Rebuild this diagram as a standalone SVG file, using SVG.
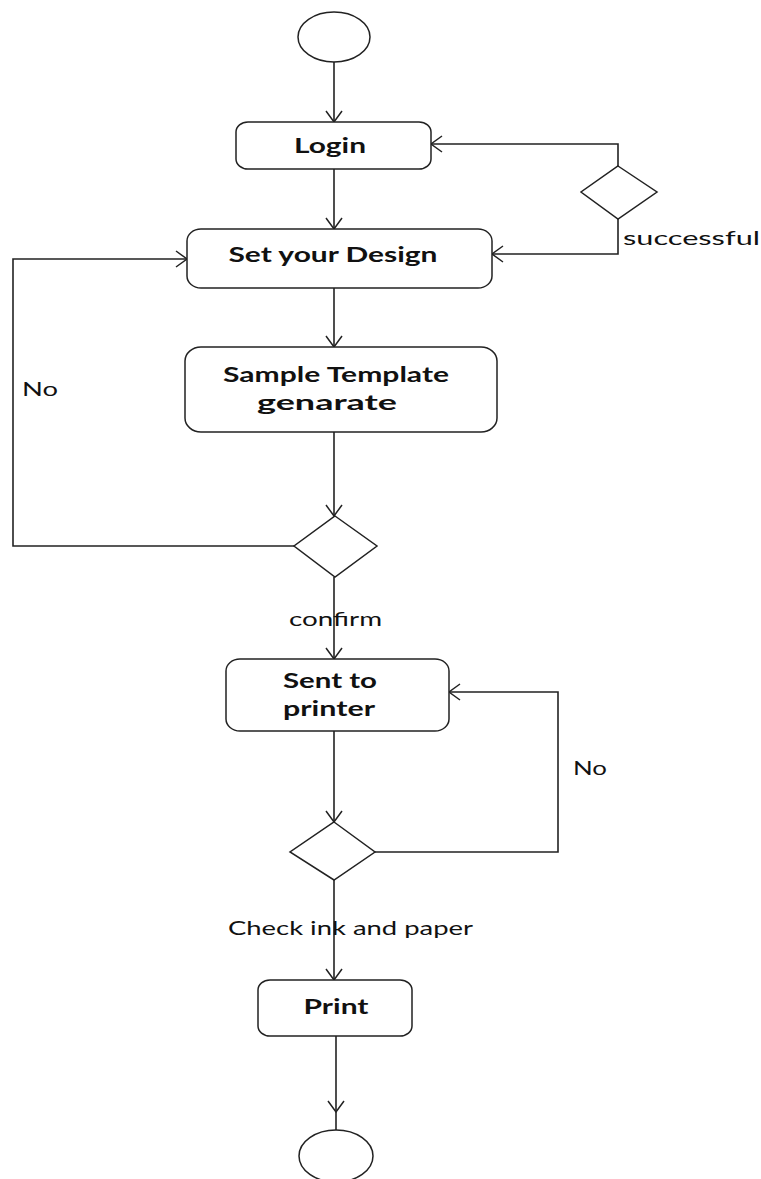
<svg xmlns="http://www.w3.org/2000/svg" width="761" height="1179" viewBox="0 0 761 1179">
<defs>
<style>
.n{fill:#fff;stroke:#222;stroke-width:1.5}
.c{fill:none;stroke:#222;stroke-width:1.6}
.t{font-family:Lato,"Liberation Sans",sans-serif;font-weight:bold;font-size:21px;fill:#111;text-anchor:middle;dominant-baseline:central}
.l{font-family:Lato,"Liberation Sans",sans-serif;font-size:20px;fill:#111;dominant-baseline:central}
</style>
<marker id="a" markerWidth="24" markerHeight="24" refX="12" refY="12" orient="auto" markerUnits="userSpaceOnUse">
<path d="M1,4 L12,12 L1,20" fill="none" stroke="#222" stroke-width="1.5"/>
</marker>
</defs>
<g id="connectors">
<path class="c" d="M334,62 V122" marker-end="url(#a)"/>
<path class="c" d="M334,169 V229" marker-end="url(#a)"/>
<path class="c" d="M334,288 V347" marker-end="url(#a)"/>
<path class="c" d="M334,432 V516" marker-end="url(#a)"/>
<path class="c" d="M294,546 H13 V259 H187" marker-end="url(#a)"/>
<path class="c" d="M334,577 V659" marker-end="url(#a)"/>
<path class="c" d="M334,731 V822" marker-end="url(#a)"/>
<path class="c" d="M375,852 H558 V692 H449" marker-end="url(#a)"/>
<path class="c" d="M334,880 V980" marker-end="url(#a)"/>
<path class="c" d="M336,1036 V1112" marker-end="url(#a)"/>
<path class="c" d="M336,1112 V1130"/>
<path class="c" d="M618,166 V144 H431" marker-end="url(#a)"/>
<path class="c" d="M618,219 V254 H492" marker-end="url(#a)"/>
</g>
<g id="start"><ellipse class="n" cx="334" cy="37" rx="36" ry="25"/></g>
<g id="login"><rect class="n" x="236" y="122" width="195" height="47" rx="12" ry="10"/><text class="t" x="330" y="144" textLength="72" lengthAdjust="spacingAndGlyphs">Login</text></g>
<g id="setDesign"><rect class="n" x="187" y="229" width="305" height="59" rx="14" ry="12"/><text class="t" x="333" y="253" textLength="209" lengthAdjust="spacingAndGlyphs">Set your Design</text></g>
<g id="sample"><rect class="n" x="185" y="347" width="312" height="85" rx="16" ry="14"/><text class="t" x="336" y="373" textLength="226" lengthAdjust="spacingAndGlyphs">Sample Template</text><text class="t" x="327" y="401" textLength="140" lengthAdjust="spacingAndGlyphs">genarate</text></g>
<g id="decisionSuccess"><polygon class="n" points="618,166 657,192 618,219 581,192"/><text class="l" x="623" y="237" textLength="137" lengthAdjust="spacingAndGlyphs">successful</text></g>
<g id="decisionConfirm"><polygon class="n" points="335,516 377,546 335,577 294,546"/><text class="l" x="22" y="388" textLength="36" lengthAdjust="spacingAndGlyphs">No</text><text class="l" x="289" y="618" textLength="93" lengthAdjust="spacingAndGlyphs">confirm</text></g>
<g id="sent"><rect class="n" x="226" y="659" width="223" height="72" rx="14" ry="12"/><text class="t" x="330" y="679" textLength="94" lengthAdjust="spacingAndGlyphs">Sent to</text><text class="t" x="329" y="707" textLength="92" lengthAdjust="spacingAndGlyphs">printer</text></g>
<g id="decisionInk"><polygon class="n" points="334,822 375,852 334,880 290,852"/><text class="l" x="573" y="767" textLength="34" lengthAdjust="spacingAndGlyphs">No</text><text class="l" x="228" y="927" textLength="245" lengthAdjust="spacingAndGlyphs">Check ink and paper</text></g>
<g id="print"><rect class="n" x="258" y="980" width="154" height="56" rx="12" ry="10"/><text class="t" x="336" y="1005" textLength="65" lengthAdjust="spacingAndGlyphs">Print</text></g>
<g id="end"><ellipse class="n" cx="336" cy="1156" rx="37" ry="26"/></g>
</svg>
